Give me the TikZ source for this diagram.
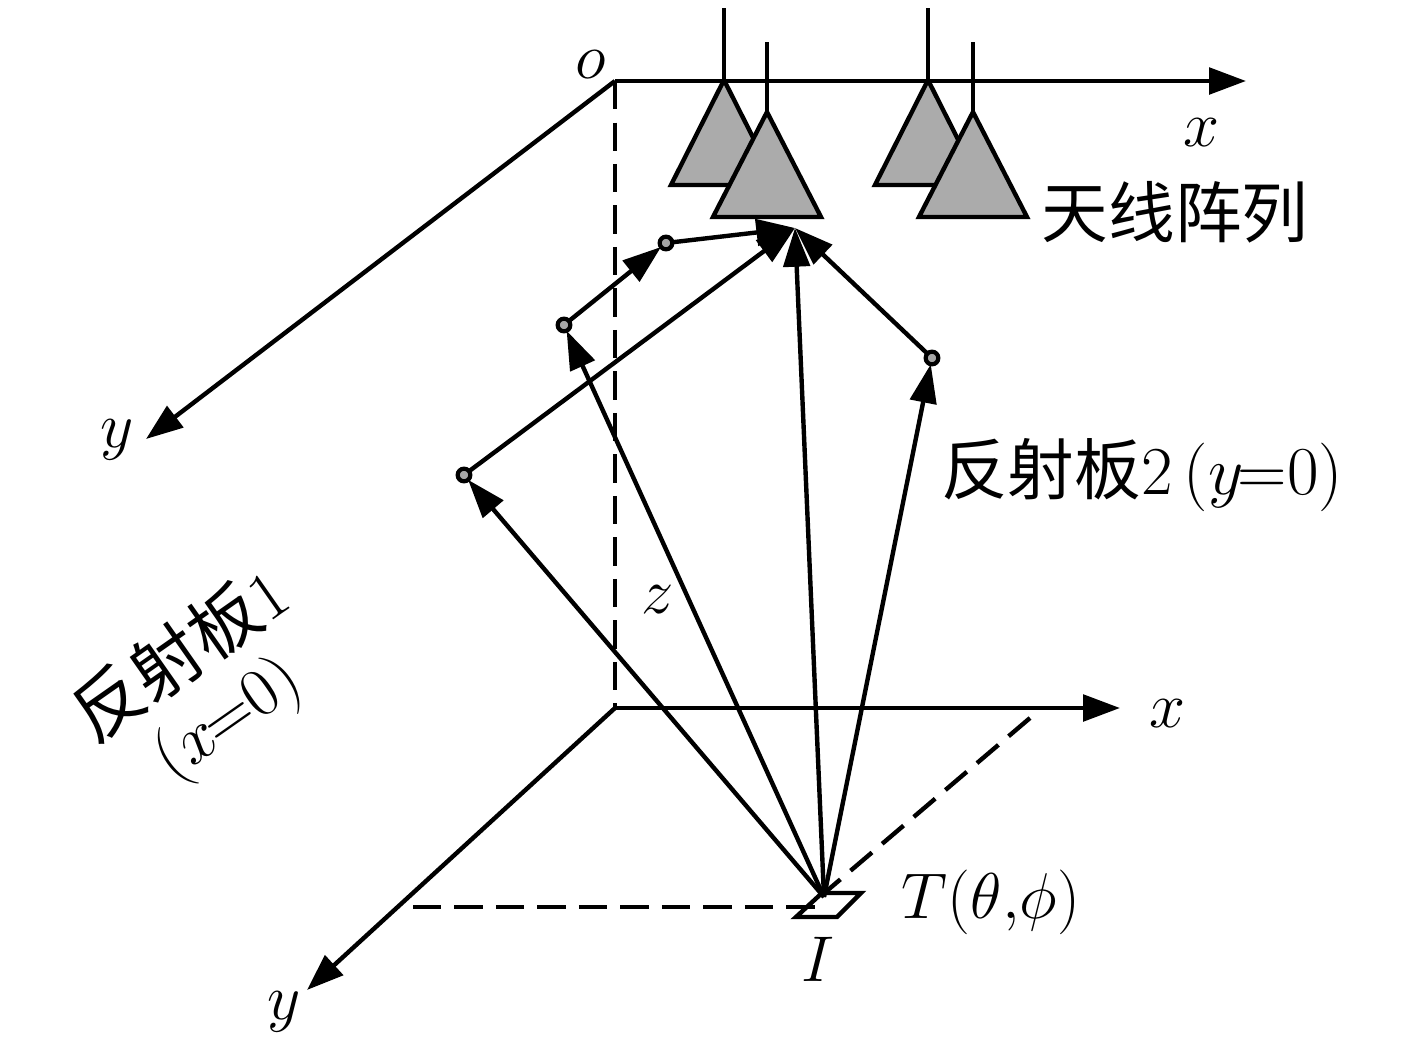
\documentclass[tikz,border=0pt]{standalone}
\usepackage{amsmath}
\usepackage{fix-cm}
\usepackage{fontspec}
\newfontfamily\cjk{Noto Sans CJK SC}[Scale=1.03]
\newfontfamily\cjkmid{Noto Sans CJK SC}[Scale=1.09]
\usetikzlibrary{arrows.meta}
\tikzset{
  axis/.style={line width=1.25pt, -{Triangle[length=10.5pt, width=7.5pt]}},
  ray/.style={line width=1.25pt, -{Triangle[length=11pt, width=7.5pt]}},
  guide/.style={line width=1.25pt, dashed, dash pattern=on 8pt off 3.8pt},
  spot/.style={circle, draw, line width=1.2pt, fill=black!35, inner sep=0pt, outer sep=0pt, minimum size=3.6pt},
  antenna/.style={draw, line width=1.25pt, fill=black!33, line join=miter},
  lbl/.style={inner sep=0pt, font=\fontsize{18.4}{22}\selectfont},
  plate/.style={inner sep=0pt, font=\fontsize{19.5}{23}\selectfont},
}
\begin{document}
\begin{tikzpicture}[x=0.01cm, y=-0.01cm]
  \useasboundingbox (0,0) rectangle (1417,1042);
  % upper axes
  \coordinate (Top-o) at (615,81);
  \coordinate (Top-x) at (1246,81);
  \coordinate (Top-y) at (146,439);
  \coordinate (Base-o) at (615,708);
  \coordinate (Base-x) at (1120,708);
  \coordinate (Base-y) at (307,990);
  \coordinate (Foot-x) at (1030,718);
  \coordinate (Foot-y) at (413,907);
  \coordinate (Foot-xend) at (822,895);
  \coordinate (Foot-yend) at (826,907);
  \draw[axis] (Top-o) -- (Top-x);
  \draw[axis] (Top-o) -- (Top-y);
  \draw[guide] (Top-o) -- (Base-o);
  \draw[axis] (Base-o) -- (Base-x);
  \draw[axis] (Base-o) -- (Base-y);
  \draw[guide] (Foot-x) -- (Foot-xend);
  \draw[guide] (Foot-y) -- (Foot-yend);

  % antennas, back one first
  \foreach \xa/\xb/\ya/\yb in {724/53/8/80, 767/54/42/112, 928/53/8/80, 973/54/42/112} {
    \draw[line width=1.25pt] (\xa,\ya) -- (\xa,\yb);
    \filldraw[antenna] (\xa,\yb) -- (\xa-\xb,\yb+105) -- (\xa+\xb,\yb+105) -- cycle;
  }

  % patch at the source
  \coordinate (Patch-1) at (796,917);
  \coordinate (Patch-2) at (837,917);
  \coordinate (Patch-3) at (861,893);
  \coordinate (Patch-4) at (822,893);
  \draw[line width=1.25pt] (Patch-1) -- (Patch-2) -- (Patch-3) -- (Patch-4) -- cycle;

  % rays
  \coordinate (Source) at (824,897);
  \coordinate (Target) at (795,228);
  \node[spot] (Bounce-1) at (464,475) {};
  \node[spot] (Bounce-2) at (564,325) {};
  \node[spot] (Bounce-3) at (666,243) {};
  \node[spot] (Bounce-4) at (932,358) {};
  \draw[ray] (Source) -- (Bounce-1);
  \draw[ray] (Source) -- (Bounce-2);
  \draw[ray] (Source) -- (Bounce-4);
  \draw[ray] (Source) -- (Target);
  \draw[ray] (Bounce-1) -- (Target);
  \draw[ray] (Bounce-2) -- (Bounce-3);
  \draw[ray] (Bounce-3) -- (Target);
  \draw[ray] (Bounce-4) -- (Target);

  % labels
  \node[lbl] (Label-o) at (591,65) {$o$};
  \node[lbl] (Label-xtop) at (1201,133) {$x$};
  \node[lbl] (Label-ytop) at (117,440) {$y$};
  \node[lbl] (Label-z) at (658,600) {$z$};
  \node[lbl] (Label-xbase) at (1167,714) {$x$};
  \node[lbl] (Label-ybase) at (284,1012) {$y$};
  \node[lbl] (Label-I) at (818,959) {$I$};
  \node[lbl] (Label-T) at (991,902) {$T(\theta{,}\phi)$};
  \node[lbl] (Label-array) at (1175,212) {\cjk 天线阵列};
  \node[plate] (Label-plate2) at (1142,475) {{\fontsize{18.4}{22}\selectfont\cjk 反射板}$2\mkern3mu(y\mkern-1.5mu{=}0)$};
  \node[plate, rotate=35] (Label-plate1) at (179,653) {{\fontsize{18.4}{22}\selectfont\cjkmid 反射板}$1$};
  \node[plate, rotate=35] (Label-plate1b) at (229,721) {$(x\mkern-1.5mu{=}0)$};
\end{tikzpicture}
\end{document}
